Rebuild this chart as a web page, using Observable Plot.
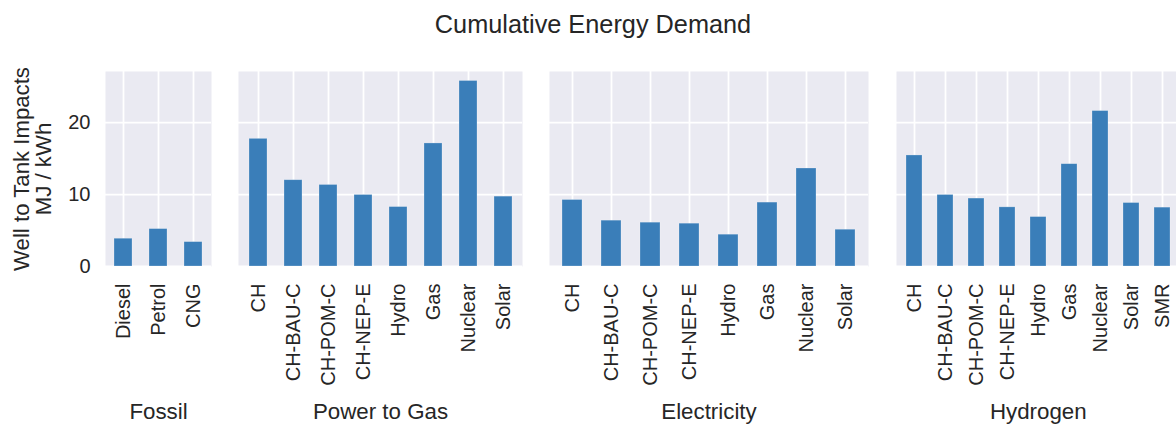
<!DOCTYPE html>
<html><head><meta charset="utf-8">
<script src="https://cdn.jsdelivr.net/npm/d3@7"></script>
<script src="https://cdn.jsdelivr.net/npm/@observablehq/plot@0.6"></script>
<style>
body{margin:0;background:#fff;overflow:hidden;font-family:"Liberation Sans",Arial,sans-serif;}
#root{position:relative;width:1176px;height:426px;overflow:hidden;}
.title{position:absolute;left:0;top:12px;width:1186px;text-align:center;font-size:25.3px;line-height:25px;color:#262626;}
.panel{position:absolute;top:0;}
.panel svg{max-width:none;overflow:visible;}
</style></head><body><div id="root"></div>
<script>
// ---- data ----
const groups = ["Fossil", "Power to Gas", "Electricity", "Hydrogen"];
const fossilCats = ["Diesel", "Petrol", "CNG"];
const fossilVals = [3.86, 5.2, 3.39];
const ptgCats = ["CH", "CH-BAU-C", "CH-POM-C", "CH-NEP-E", "Hydro", "Gas", "Nuclear", "Solar"];
const ptgVals = [17.74, 11.99, 11.33, 9.94, 8.26, 17.1, 25.78, 9.71];
const elecCats = ["CH", "CH-BAU-C", "CH-POM-C", "CH-NEP-E", "Hydro", "Gas", "Nuclear", "Solar"];
const elecVals = [9.24, 6.37, 6.09, 5.95, 4.42, 8.88, 13.62, 5.11];
const h2Cats = ["CH", "CH-BAU-C", "CH-POM-C", "CH-NEP-E", "Hydro", "Gas", "Nuclear", "Solar", "SMR"];
const h2Vals = [15.43, 9.94, 9.44, 8.22, 6.87, 14.22, 21.6, 8.82, 8.18];
const yTicks = [0, 10, 20];
const yLabel = "Well to Tank Impacts\nMJ / kWh";
const title = "Cumulative Energy Demand";

// ---- layout ----
const yMax = 27.1;
const panels = [
  {cats: fossilCats, vals: fossilVals, left: 0, marginLeft: 105, inner: 106},
  {cats: ptgCats, vals: ptgVals, left: 238, marginLeft: 0, inner: 284},
  {cats: elecCats, vals: elecVals, left: 549, marginLeft: 0, inner: 319},
  {cats: h2Cats, vals: h2Vals, left: 896, marginLeft: 0, inner: 283.5}
];
const root = document.getElementById("root");
const textColor = "#262626";
panels.forEach((p, i) => {
  const table = p.cats.map((c, j) => ({cat: c, v: p.vals[j]}));
  const marks = [
    Plot.frame({fill: "#EAEAF2", stroke: "none"}),
    Plot.gridX({stroke: "white", strokeOpacity: 1, strokeWidth: 1.8}),
    Plot.gridY(yTicks, {stroke: "white", strokeOpacity: 1, strokeWidth: 1.8}),
    Plot.barY(table, {x: "cat", y: "v", fill: "#3a7eb9", stroke: "#ffffff", strokeOpacity: 0.35, strokeWidth: 0.7}),
    Plot.axisX({tickSize: 0, tickPadding: 17, tickRotate: -90, fontSize: 20, label: null}),
    Plot.text([groups[i]], {frameAnchor: "bottom", dy: 152, fontSize: 22.3, lineAnchor: "bottom"})
  ];
  if (i === 0) {
    marks.push(Plot.axisY(yTicks, {tickSize: 0, tickPadding: 15, fontSize: 20, label: null}));
    marks.push(Plot.text([yLabel], {frameAnchor: "left", dx: -72.8, rotate: -90, fontSize: 22.2, lineHeight: 1.0, textAnchor: "middle", lineAnchor: "middle"}));
  }
  const chart = Plot.plot({
    width: p.marginLeft + p.inner,
    height: 426,
    marginTop: 71,
    marginBottom: 160,
    marginLeft: p.marginLeft,
    marginRight: 0,
    style: {background: "transparent", color: textColor, fontFamily: "'Liberation Sans', Arial, sans-serif", overflow: "visible"},
    x: {type: "band", domain: p.cats, paddingInner: 0.5, paddingOuter: 0.25, axis: null},
    y: {domain: [0, yMax], axis: null},
    marks
  });
  const div = document.createElement("div");
  div.className = "panel";
  div.style.left = p.left + "px";
  div.appendChild(chart);
  root.appendChild(div);
});
const t = document.createElement("div");
t.className = "title";
t.textContent = title;
root.appendChild(t);
</script></body></html>
